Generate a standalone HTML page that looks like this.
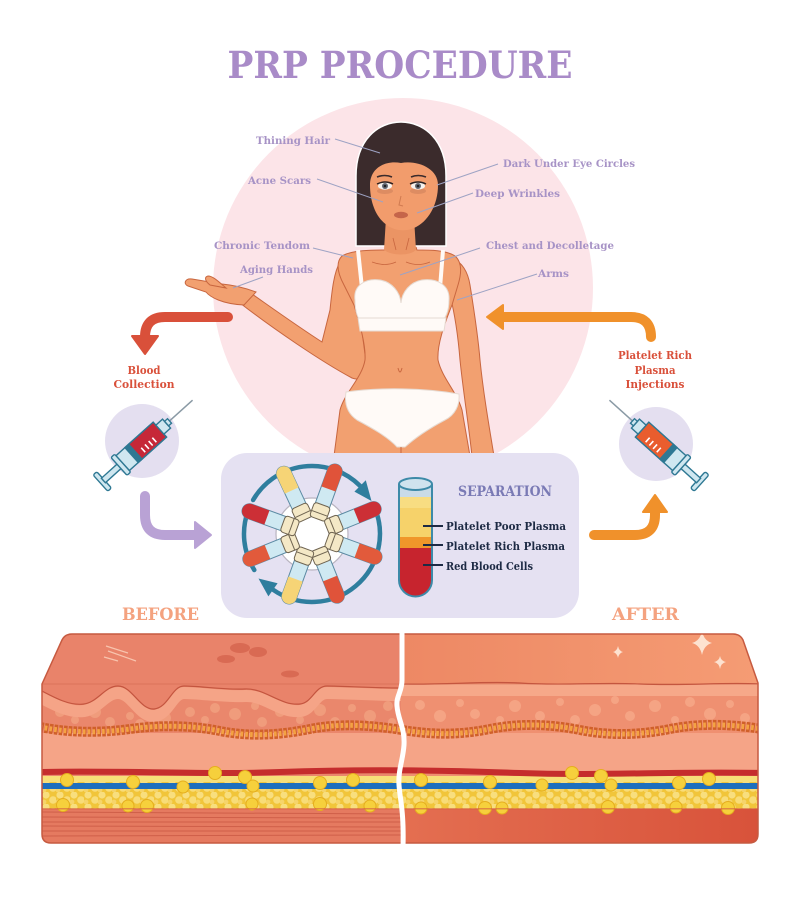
<!DOCTYPE html>
<html><head><meta charset="utf-8"><style>
html,body{margin:0;padding:0;background:#fff;}
body{width:800px;height:897px;overflow:hidden;}
svg{display:block;}
.lab{font-family:"DejaVu Serif","Liberation Serif",serif;font-weight:bold;font-size:10.5px;fill:#a793c6;}
.ser{font-family:"DejaVu Serif","Liberation Serif",serif;font-weight:bold;}
</style></head><body>
<svg width="800" height="897" viewBox="0 0 800 897" xmlns="http://www.w3.org/2000/svg">
<defs>
<pattern id="fat" width="14" height="12" patternUnits="userSpaceOnUse">
<rect width="14" height="12" fill="#f1c53a"/>
<circle cx="4" cy="3" r="3.6" fill="#f8de7e"/>
<circle cx="11" cy="8" r="3.8" fill="#f8dc78"/>
<circle cx="2" cy="10" r="2.4" fill="#f6d46a"/>
</pattern>
<clipPath id="blk"><path d="M42,684 L62,640 Q65,634 72,634 L733,634 Q740,634 743,640 L758,683 L758,834 Q758,843 749,843 L51,843 Q42,843 42,834 Z"/></clipPath>
<clipPath id="cb"><rect x="0" y="600" width="401" height="260"/></clipPath>
<clipPath id="ca"><rect x="401" y="600" width="400" height="260"/></clipPath>
<linearGradient id="topA" x1="0" x2="1" y1="0" y2="0"><stop offset="0" stop-color="#ed8864"/><stop offset="1" stop-color="#f59c74"/></linearGradient>
<linearGradient id="botA" x1="0" x2="1" y1="0" y2="0"><stop offset="0" stop-color="#e46f51"/><stop offset="1" stop-color="#d8523a"/></linearGradient>
</defs>

<!-- Title -->
<text x="400" y="78" text-anchor="middle" class="ser" font-size="37" fill="#a98bc8" textLength="345" lengthAdjust="spacingAndGlyphs">PRP PROCEDURE</text>

<!-- pink circle -->
<circle cx="403" cy="288" r="190" fill="#fce4e8"/>

<!-- Woman -->
<g stroke="#c8663f" stroke-width="1" fill="#f2a070">
<path d="M452,258 C462,262 468,272 470,285 C474,310 478,335 480,360 C483,390 488,420 494,456 L472,456 C468,420 463,390 460,360 C458,335 455,315 450,295 Z"/>
<path d="M340,262 C334,272 332,290 330,310 L322,342 C300,328 272,308 252,294 L240,303 C272,328 322,362 352,378 C362,382 368,372 366,362 C362,330 356,290 352,265 Z"/>
<path d="M256,292 C245,288 234,285 222,284 L192,279 C185,278 183,284 188,286 L206,292 C210,297 222,304 244,305 Z"/>
<path d="M226,288 C219,282 213,276 208,276 C204,277 205,281 210,285 Z"/>
<path d="M385,244 L415,244 L417,250 C430,250 446,250 455,256 C462,262 462,272 458,285 L452,305 C444,325 437,345 438,360 C442,378 457,392 462,410 L470,456 L334,456 L340,410 C345,392 362,378 365,360 C366,345 360,325 354,305 L344,285 C337,272 336,262 342,256 C352,250 372,250 385,250 Z"/>
</g>
<path d="M356,246 L356,176 C356,140 378,122 401,122 C424,122 446,140 446,176 L446,246 Z" fill="#3b2b2c" stroke="#fff" stroke-width="1.5"/>
<path d="M386,218 L414,218 L416,250 C410,256 392,256 384,250 Z" fill="#eb9464"/>
<path d="M370,185 C370,168 385,160 401,163 C417,160 438,168 438,185 C438,205 428,222 414,228 C408,231 398,231 392,228 C378,222 370,205 370,185 Z" fill="#f29c6c"/>
<ellipse cx="385" cy="191" rx="8" ry="3" fill="#dd8c62"/>
<ellipse cx="418" cy="191" rx="8" ry="3" fill="#dd8c62"/>
<ellipse cx="385" cy="186" rx="7" ry="3.6" fill="#f6f2ee"/>
<ellipse cx="418" cy="186" rx="7" ry="3.6" fill="#f6f2ee"/>
<circle cx="385" cy="186" r="3" fill="#626874"/><circle cx="418" cy="186" r="3" fill="#626874"/>
<circle cx="385" cy="186" r="1.3" fill="#222"/><circle cx="418" cy="186" r="1.3" fill="#222"/>
<path d="M377,184 Q385,180 393,184 M410,184 Q418,180 426,184" stroke="#2b2020" stroke-width="1.4" fill="none"/>
<path d="M377,177 Q385,174 392,177 M411,177 Q418,174 426,177" stroke="#3b2b2c" stroke-width="1.6" fill="none"/>
<path d="M401,196 L399,205 L403,206" stroke="#d07a50" stroke-width="1" fill="none"/>
<ellipse cx="401" cy="215" rx="7" ry="3.2" fill="#c5654a"/>
<path d="M372,262 Q385,267 396,262 M406,262 Q418,267 430,262 M393,238 L396,250 M409,238 L406,250" stroke="#c8663f" stroke-width="0.8" fill="none"/>
<g fill="#fffaf7" stroke="#e6dbd3" stroke-width="1">
<path d="M358,250 L362,288" stroke="#fffaf7" stroke-width="4"/>
<path d="M443,250 L440,288" stroke="#fffaf7" stroke-width="4"/>
<path d="M355,300 C353,285 366,278 380,280 C392,282 400,292 401,303 C402,292 410,282 422,280 C437,278 450,285 449,300 C449,312 445,320 440,322 L362,322 C358,320 355,312 355,300 Z"/>
<path d="M358,318 L446,318 L444,331 L360,331 Z"/>
</g>
<path d="M398,368 Q400,376 402,368" stroke="#c8663f" stroke-width="1" fill="none"/>
<path d="M346,392 C380,387 425,388 459,394 C460,405 455,415 445,420 C430,428 415,438 405,447 L397,447 C388,437 372,428 357,420 C348,414 344,405 346,392 Z" fill="#fffaf7" stroke="#e6dbd3" stroke-width="1"/>
<path d="M401,447 L401,456" stroke="#c8663f" stroke-width="1"/>

<g stroke="#9ea3c4" stroke-width="1" fill="none">
<path d="M335,139 L380,153"/><path d="M317,179 L383,202"/>
<path d="M498,164 L437,185"/><path d="M473,193 L417,213"/>
<path d="M313,248 L353,258"/><path d="M263,277 L233,288"/>
<path d="M480,248 L400,275"/><path d="M537,274 L457,300"/>
</g>
<text class="lab" x="256" y="144" textLength="74" lengthAdjust="spacingAndGlyphs">Thining Hair</text>
<text class="lab" x="248" y="184" textLength="63" lengthAdjust="spacingAndGlyphs">Acne Scars</text>
<text class="lab" x="503" y="167" textLength="132" lengthAdjust="spacingAndGlyphs">Dark Under Eye Circles</text>
<text class="lab" x="475" y="197" textLength="85" lengthAdjust="spacingAndGlyphs">Deep Wrinkles</text>
<text class="lab" x="214" y="249" textLength="96" lengthAdjust="spacingAndGlyphs">Chronic Tendom</text>
<text class="lab" x="240" y="273" textLength="73" lengthAdjust="spacingAndGlyphs">Aging Hands</text>
<text class="lab" x="486" y="249" textLength="128" lengthAdjust="spacingAndGlyphs">Chest and Decolletage</text>
<text class="lab" x="538" y="277" textLength="31" lengthAdjust="spacingAndGlyphs">Arms</text>

<path d="M228,317 L165,317 Q145,317 145,337" stroke="#d9503a" stroke-width="10" fill="none" stroke-linecap="round"/>
<polygon points="132,336 158,336 145,354" fill="#d9503a" stroke="#d9503a" stroke-width="2" stroke-linejoin="round"/>
<path d="M145,496 L145,515 Q145,535 165,535 L197,535" stroke="#b9a2d5" stroke-width="10" fill="none" stroke-linecap="round"/>
<polygon points="195,522 195,548 211,535" fill="#b9a2d5" stroke="#b9a2d5" stroke-width="2" stroke-linejoin="round"/>
<path d="M651,337 Q651,317 631,317 L502,317" stroke="#f0912b" stroke-width="10" fill="none" stroke-linecap="round"/>
<polygon points="503,305 503,329 487,317" fill="#f0912b" stroke="#f0912b" stroke-width="2" stroke-linejoin="round"/>
<path d="M594,535 L635,535 Q655,535 655,515 L655,512" stroke="#f0912b" stroke-width="10" fill="none" stroke-linecap="round"/>
<polygon points="643,512 667,512 655,495" fill="#f0912b" stroke="#f0912b" stroke-width="2" stroke-linejoin="round"/>

<g class="ser" font-size="11.5" fill="#d9503a" text-anchor="middle">
<text x="144" y="374" textLength="33" lengthAdjust="spacingAndGlyphs">Blood</text>
<text x="144" y="388" textLength="61" lengthAdjust="spacingAndGlyphs">Collection</text>
<text x="655" y="359" textLength="74" lengthAdjust="spacingAndGlyphs">Platelet Rich</text>
<text x="655" y="374" textLength="41" lengthAdjust="spacingAndGlyphs">Plasma</text>
<text x="655" y="388" textLength="59" lengthAdjust="spacingAndGlyphs">Injections</text>
</g>

<circle cx="142" cy="441" r="37" fill="#e4dff0"/>
<circle cx="656" cy="444" r="37" fill="#e4dff0"/>

<g transform="translate(145,443) rotate(-42)" stroke="#2e7893" stroke-width="1.4">
<line x1="33" y1="0" x2="64" y2="0" stroke="#8a9aa5" stroke-width="1.5"/>
<rect x="-60" y="-11" width="5" height="22" rx="2" fill="#cfe7f0"/>
<rect x="-56" y="-3" width="22" height="6" fill="#cfe7f0"/>
<rect x="-35" y="-12" width="5" height="24" rx="1.5" fill="#cfe7f0"/>
<rect x="-30" y="-10" width="50" height="20" fill="#cfe7f0"/>
<rect x="-14" y="-10" width="34" height="20" fill="#c62838"/>
<rect x="-18" y="-10" width="5" height="20" fill="#2e7893"/>
<path d="M-6,1 L-6,7 M-1,1 L-1,7 M4,1 L4,7 M9,1 L9,7" stroke="#fff" stroke-width="1.6"/>
<rect x="20" y="-6" width="9" height="12" fill="#cfe7f0"/>
<rect x="29" y="-3" width="4" height="6" fill="#cfe7f0"/>
</g>
<g transform="translate(657,443) scale(-1,1) rotate(-42)" stroke="#2e7893" stroke-width="1.4">
<line x1="33" y1="0" x2="64" y2="0" stroke="#8a9aa5" stroke-width="1.5"/>
<rect x="-60" y="-11" width="5" height="22" rx="2" fill="#cfe7f0"/>
<rect x="-56" y="-3" width="22" height="6" fill="#cfe7f0"/>
<rect x="-35" y="-12" width="5" height="24" rx="1.5" fill="#cfe7f0"/>
<rect x="-30" y="-10" width="50" height="20" fill="#cfe7f0"/>
<rect x="-14" y="-10" width="34" height="20" fill="#e95d2e"/>
<rect x="-18" y="-10" width="5" height="20" fill="#2e7893"/>
<path d="M-6,1 L-6,7 M-1,1 L-1,7 M4,1 L4,7 M9,1 L9,7" stroke="#fff" stroke-width="1.6"/>
<rect x="20" y="-6" width="9" height="12" fill="#cfe7f0"/>
<rect x="29" y="-3" width="4" height="6" fill="#cfe7f0"/>
</g>

<rect x="221" y="453" width="358" height="165" rx="26" fill="#e5e1f2"/>

<circle cx="312" cy="534" r="36" fill="#fff" stroke="#b9b4c0" stroke-width="1.2"/>
<g stroke="#2f7e9e" stroke-width="4.5" fill="none" stroke-linecap="round">
<path d="M253.1,500 A68,68 0 0 1 360.1,485.9"/>
<path d="M373.6,505.3 A68,68 0 0 1 273,589.7"/>
<path d="M254.3,570 A68,68 0 0 1 248.1,510.7"/>
</g>
<polygon points="365.8,480.2 354.4,491.6 371.5,501" fill="#2f7e9e"/>
<polygon points="268.4,596.4 277.6,583.3 258.5,578.5" fill="#2f7e9e"/>
<g stroke="#5b8aa3" stroke-width="1">
<g transform="translate(312,534) rotate(-115)"><rect x="18" y="-7.5" width="56" height="15" rx="7.5" fill="#cfe9f2"/><path d="M48,-7.5 L66.5,-7.5 A7.5,7.5 0 0 1 66.5,7.5 L48,7.5 Z" fill="#f6d476" stroke="none"/><rect x="16" y="-8.5" width="15" height="17" rx="3" fill="#f4e8c6" stroke="#6e6350"/><line x1="22" y1="-8" x2="22" y2="8" stroke="#6e6350"/></g>
<g transform="translate(312,534) rotate(-70)"><rect x="18" y="-7.5" width="56" height="15" rx="7.5" fill="#cfe9f2"/><path d="M48,-7.5 L66.5,-7.5 A7.5,7.5 0 0 1 66.5,7.5 L48,7.5 Z" fill="#e0533a" stroke="none"/><rect x="16" y="-8.5" width="15" height="17" rx="3" fill="#f4e8c6" stroke="#6e6350"/><line x1="22" y1="-8" x2="22" y2="8" stroke="#6e6350"/></g>
<g transform="translate(312,534) rotate(-22)"><rect x="18" y="-7.5" width="56" height="15" rx="7.5" fill="#cfe9f2"/><path d="M48,-7.5 L66.5,-7.5 A7.5,7.5 0 0 1 66.5,7.5 L48,7.5 Z" fill="#cc2f36" stroke="none"/><rect x="16" y="-8.5" width="15" height="17" rx="3" fill="#f4e8c6" stroke="#6e6350"/><line x1="22" y1="-8" x2="22" y2="8" stroke="#6e6350"/></g>
<g transform="translate(312,534) rotate(20)"><rect x="18" y="-7.5" width="56" height="15" rx="7.5" fill="#cfe9f2"/><path d="M48,-7.5 L66.5,-7.5 A7.5,7.5 0 0 1 66.5,7.5 L48,7.5 Z" fill="#e25a3b" stroke="none"/><rect x="16" y="-8.5" width="15" height="17" rx="3" fill="#f4e8c6" stroke="#6e6350"/><line x1="22" y1="-8" x2="22" y2="8" stroke="#6e6350"/></g>
<g transform="translate(312,534) rotate(68)"><rect x="18" y="-7.5" width="56" height="15" rx="7.5" fill="#cfe9f2"/><path d="M48,-7.5 L66.5,-7.5 A7.5,7.5 0 0 1 66.5,7.5 L48,7.5 Z" fill="#e0533a" stroke="none"/><rect x="16" y="-8.5" width="15" height="17" rx="3" fill="#f4e8c6" stroke="#6e6350"/><line x1="22" y1="-8" x2="22" y2="8" stroke="#6e6350"/></g>
<g transform="translate(312,534) rotate(110)"><rect x="18" y="-7.5" width="56" height="15" rx="7.5" fill="#cfe9f2"/><path d="M48,-7.5 L66.5,-7.5 A7.5,7.5 0 0 1 66.5,7.5 L48,7.5 Z" fill="#f6d476" stroke="none"/><rect x="16" y="-8.5" width="15" height="17" rx="3" fill="#f4e8c6" stroke="#6e6350"/><line x1="22" y1="-8" x2="22" y2="8" stroke="#6e6350"/></g>
<g transform="translate(312,534) rotate(158)"><rect x="18" y="-7.5" width="56" height="15" rx="7.5" fill="#cfe9f2"/><path d="M48,-7.5 L66.5,-7.5 A7.5,7.5 0 0 1 66.5,7.5 L48,7.5 Z" fill="#e25a3b" stroke="none"/><rect x="16" y="-8.5" width="15" height="17" rx="3" fill="#f4e8c6" stroke="#6e6350"/><line x1="22" y1="-8" x2="22" y2="8" stroke="#6e6350"/></g>
<g transform="translate(312,534) rotate(-160)"><rect x="18" y="-7.5" width="56" height="15" rx="7.5" fill="#cfe9f2"/><path d="M48,-7.5 L66.5,-7.5 A7.5,7.5 0 0 1 66.5,7.5 L48,7.5 Z" fill="#cc2f36" stroke="none"/><rect x="16" y="-8.5" width="15" height="17" rx="3" fill="#f4e8c6" stroke="#6e6350"/><line x1="22" y1="-8" x2="22" y2="8" stroke="#6e6350"/></g>
</g>

<path d="M399,484 L399,580 A16.5,16.5 0 0 0 432,580 L432,484 Z" fill="#c9dbe8"/>
<rect x="399" y="497" width="33" height="41" fill="#f8dd82"/>
<rect x="399" y="508" width="33" height="30" fill="#f6d26a"/>
<rect x="399" y="537" width="33" height="12" fill="#f0962a"/>
<path d="M399,548 L432,548 L432,580 A16.5,16.5 0 0 1 399,580 Z" fill="#c7242e"/>
<path d="M399,484 L399,580 A16.5,16.5 0 0 0 432,580 L432,484" fill="none" stroke="#3d8aa8" stroke-width="2"/>
<ellipse cx="415.5" cy="484" rx="16.5" ry="6" fill="#cfe3ee" stroke="#3d8aa8" stroke-width="2"/>
<g stroke="#1d2a44" stroke-width="2"><path d="M423,526 L443,526 M423,545 L443,545 M423,565 L443,565"/></g>
<text x="458" y="496" class="ser" font-size="13.5" fill="#7a7ab5" textLength="94" lengthAdjust="spacingAndGlyphs">SEPARATION</text>
<g class="ser" font-size="11.5" fill="#1d2a44">
<text x="446" y="530" textLength="120" lengthAdjust="spacingAndGlyphs">Platelet Poor Plasma</text>
<text x="446" y="550" textLength="119" lengthAdjust="spacingAndGlyphs">Platelet Rich Plasma</text>
<text x="446" y="570" textLength="87" lengthAdjust="spacingAndGlyphs">Red Blood Cells</text>
</g>

<text x="122" y="620" class="ser" font-size="17" fill="#f4a27f" textLength="77" lengthAdjust="spacingAndGlyphs">BEFORE</text>
<text x="612" y="620" class="ser" font-size="17" fill="#f4a27f" textLength="67" lengthAdjust="spacingAndGlyphs">AFTER</text>

<g clip-path="url(#blk)">
 <g clip-path="url(#cb)">
  <rect x="40" y="630" width="365" height="220" fill="#ea876c"/>
  <g fill="#f09c7c">
   <circle cx="60" cy="712" r="5"/><circle cx="75" cy="720" r="4"/><circle cx="95" cy="712" r="6"/><circle cx="110" cy="722" r="5"/><circle cx="130" cy="716" r="4"/><circle cx="140" cy="724" r="5"/><circle cx="165" cy="718" r="6"/><circle cx="190" cy="712" r="5"/><circle cx="205" cy="720" r="4"/><circle cx="215" cy="708" r="5"/><circle cx="235" cy="714" r="6"/><circle cx="255" cy="706" r="4"/><circle cx="262" cy="722" r="5"/><circle cx="280" cy="712" r="5"/><circle cx="300" cy="720" r="4"/><circle cx="320" cy="710" r="6"/><circle cx="335" cy="722" r="5"/><circle cx="352" cy="708" r="4"/><circle cx="370" cy="716" r="6"/><circle cx="388" cy="706" r="5"/><circle cx="392" cy="722" r="4"/>
  </g>
  <path d="M40,697 C55,705 70,713 84,711 C98,709 105,693 118,693 C132,693 140,717 154,716 C168,715 172,693 184,693 C200,693 225,697 245,696 C265,695 280,713 300,711 C312,710 315,693 327,693 C345,693 370,695 402,695" stroke="#f5a487" stroke-width="12" fill="none"/>
  <path d="M40,600 L402,600 L402,688 C370,688 345,686 327,686 C315,686 312,703 300,704 C280,706 265,688 245,689 C225,690 200,686 184,686 C172,686 168,708 154,709 C140,710 132,686 118,686 C105,686 98,702 84,704 C70,706 55,698 40,690 Z" fill="#e9836a"/>
  <path d="M40,690 C55,698 70,706 84,704 C98,702 105,686 118,686 C132,686 140,710 154,709 C168,708 172,686 184,686 C200,686 225,690 245,689 C265,688 280,706 300,704 C312,703 315,686 327,686 C345,686 370,688 402,688" stroke="#c4553f" stroke-width="1.2" fill="none"/>
  <g fill="#d96a53"><ellipse cx="240" cy="648" rx="10" ry="5"/><ellipse cx="258" cy="652" rx="9" ry="5"/><ellipse cx="226" cy="659" rx="9" ry="4"/><ellipse cx="290" cy="674" rx="9" ry="3.5"/></g>
  <g stroke="#f8c4ae" stroke-width="1.2"><path d="M106,646 L128,653 M108,651 L136,661 M104,657 L118,661"/></g>
  <rect x="40" y="733" width="365" height="40" fill="#f5a487"/>
  <rect x="40" y="808" width="365" height="40" fill="#e57a60"/>
  <g stroke="#cf5f49" stroke-width="1"><path d="M40,812 L402,814 M40,817 L402,818 M40,822 L402,822 M40,826 L402,827 M40,831 L402,831 M40,836 L402,835"/></g>
 </g>
 <g clip-path="url(#ca)">
  <rect x="398" y="630" width="365" height="220" fill="#ef9071"/>
  <g fill="#f5a484">
   <circle cx="420" cy="705" r="5"/><circle cx="440" cy="716" r="6"/><circle cx="460" cy="703" r="4"/><circle cx="475" cy="714" r="5"/><circle cx="500" cy="720" r="4"/><circle cx="515" cy="706" r="6"/><circle cx="540" cy="716" r="5"/><circle cx="560" cy="702" r="4"/><circle cx="575" cy="720" r="5"/><circle cx="595" cy="710" r="6"/><circle cx="615" cy="700" r="4"/><circle cx="630" cy="716" r="5"/><circle cx="655" cy="706" r="6"/><circle cx="675" cy="720" r="4"/><circle cx="690" cy="702" r="5"/><circle cx="710" cy="714" r="6"/><circle cx="730" cy="704" r="4"/><circle cx="745" cy="718" r="5"/>
  </g>
  <rect x="398" y="684" width="365" height="12" fill="#f6a889"/>
  <path d="M398,600 L762,600 L762,684 C720,682 690,686 640,684 C600,682 560,686 520,683 C480,681 450,685 398,684 Z" fill="url(#topA)"/>
  <path d="M398,684 C450,685 480,681 520,683 C560,686 600,682 640,684 C690,686 720,682 762,684" stroke="#c4553f" stroke-width="1.2" fill="none"/>
  <g fill="#fde2d0">
   <path d="M702,631 Q704,641 712,643 Q704,645 702,655 Q700,645 692,643 Q700,641 702,631 Z"/>
   <path d="M618,646 Q619,651 623,652 Q619,653 618,658 Q617,653 613,652 Q617,651 618,646 Z"/>
   <path d="M720,656 Q721,661 726,662 Q721,663 720,669 Q719,663 714,662 Q719,661 720,656 Z"/>
  </g>
  <rect x="398" y="733" width="365" height="40" fill="#f5a487"/>
  <rect x="398" y="808" width="365" height="40" fill="url(#botA)"/>
 </g>
 <path d="M40,727 C70,733 100,733 130,729 S190,725 220,731 S280,735 310,729 S370,725 402,730 S460,735 490,729 S550,724 580,730 S640,735 670,729 S730,724 762,729" stroke="#d0602a" stroke-width="10" fill="none" stroke-dasharray="3.6 1.2"/>
 <path d="M40,727 C70,733 100,733 130,729 S190,725 220,731 S280,735 310,729 S370,725 402,730 S460,735 490,729 S550,724 580,730 S640,735 670,729 S730,724 762,729" stroke="#f4a243" stroke-width="5" fill="none" stroke-dasharray="2.6 2.2"/>
 <rect x="40" y="776" width="722" height="33" fill="url(#fat)"/>
 <rect x="40" y="776" width="722" height="6" fill="#f7df78"/>
 <path d="M40,772 C120,770 200,775 280,772 S440,770 520,773 S680,771 762,773" stroke="#c52d2d" stroke-width="6" fill="none"/>
 <rect x="40" y="783" width="722" height="6" fill="#1e6fbd"/>
 <g fill="#f6d03c" stroke="#e5ae1e" stroke-width="1">
  <circle cx="67" cy="780" r="6.5"/><circle cx="133" cy="782" r="6.5"/><circle cx="183" cy="787" r="6"/><circle cx="215" cy="773" r="6.5"/><circle cx="245" cy="777" r="6.5"/><circle cx="253" cy="786" r="6"/><circle cx="320" cy="783" r="6.5"/><circle cx="353" cy="780" r="6.5"/><circle cx="63" cy="805" r="6.5"/><circle cx="128" cy="806" r="6"/><circle cx="147" cy="806" r="6.5"/><circle cx="252" cy="804" r="6"/><circle cx="320" cy="804" r="6.5"/><circle cx="370" cy="806" r="6"/>
  <circle cx="421" cy="780" r="6.5"/><circle cx="490" cy="782" r="6.5"/><circle cx="542" cy="785" r="6"/><circle cx="572" cy="773" r="6.5"/><circle cx="601" cy="776" r="6.5"/><circle cx="611" cy="785" r="6"/><circle cx="679" cy="783" r="6.5"/><circle cx="709" cy="779" r="6.5"/><circle cx="421" cy="808" r="6"/><circle cx="485" cy="808" r="6.5"/><circle cx="502" cy="808" r="6"/><circle cx="608" cy="807" r="6.5"/><circle cx="676" cy="807" r="6"/><circle cx="728" cy="808" r="6.5"/>
 </g>
 <rect x="40" y="808" width="722" height="1.5" fill="#d45a40" opacity=".6"/>
</g>
<path d="M42,684 L62,640 Q65,634 72,634 L733,634 Q740,634 743,640 L758,683 L758,834 Q758,843 749,843 L51,843 Q42,843 42,834 Z" fill="none" stroke="#c65a40" stroke-width="1.5"/>
<path d="M42,684 L758,684" stroke="#c65a40" stroke-width="0.8" opacity="0.5"/>
<path d="M402,628 L402,680 C402,692 396,696 397,706 C398,720 405,728 404,745 C403,760 398,770 399,785 C400,800 404,810 403,848" stroke="#fff" stroke-width="5" fill="none"/>
</svg>
</body></html>
